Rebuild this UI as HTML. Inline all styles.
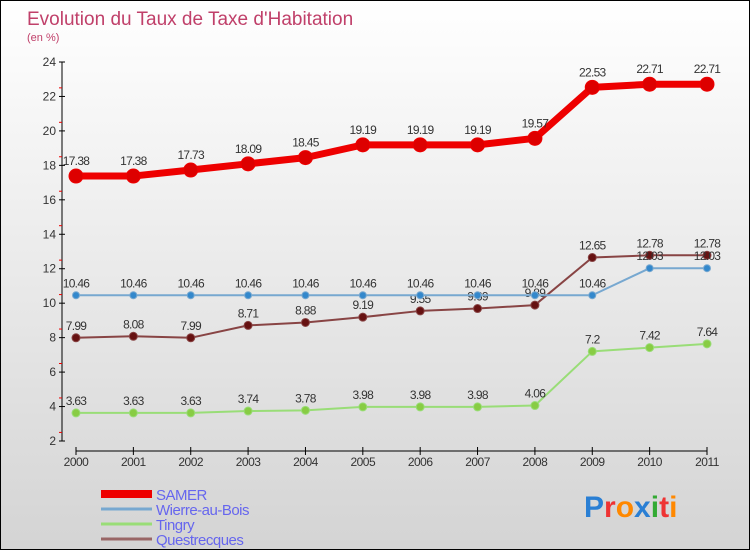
<!DOCTYPE html>
<html><head><meta charset="utf-8"><style>
body{margin:0}
#c{width:750px;height:550px;position:relative;box-sizing:border-box;border:1px solid #000;background:linear-gradient(#fff,#d4d4d4);font-family:"Liberation Sans",sans-serif;overflow:hidden}
svg{position:absolute;left:0;top:0}
</style></head><body>
<div id="c">
<svg id="s" width="750" height="550">
<text x="26" y="24" font-size="19" fill="#c0406a">Evolution du Taux de Taxe d'Habitation</text>
<text x="26" y="40" font-size="11" fill="#c0406a">(en %)</text>
<g id="g"></g>
<text x="583" y="516" font-size="30" font-weight="bold"><tspan fill="#2a7fd4">P</tspan><tspan fill="#e33">r</tspan><tspan fill="#f80">o</tspan><tspan fill="#2a7fd4">x</tspan><tspan fill="#3a3">i</tspan><tspan fill="#e33">t</tspan><tspan fill="#f80">i</tspan></text>
</svg>
</div>
<script>
const years=[2000,2001,2002,2003,2004,2005,2006,2007,2008,2009,2010,2011];
const yTicks=[2,4,6,8,10,12,14,16,18,20,22,24];
const seriesNames=["SAMER","Wierre-au-Bois","Tingry","Questrecques"];
const samer=[17.38,17.38,17.73,18.09,18.45,19.19,19.19,19.19,19.57,22.53,22.71,22.71];
const wierre=[10.46,10.46,10.46,10.46,10.46,10.46,10.46,10.46,10.46,10.46,12.03,12.03];
const tingry=[3.63,3.63,3.63,3.74,3.78,3.98,3.98,3.98,4.06,7.2,7.42,7.64];
const questrecques=[7.99,8.08,7.99,8.71,8.88,9.19,9.55,9.69,9.89,12.65,12.78,12.78];
const NS="http://www.w3.org/2000/svg",g=document.getElementById('g');
function X(i){return 75+i*(706-75)/(years.length-1);}
function Y(v){return 440-(v-2)*(440-61)/22;}
function el(t,a,p){const e=document.createElementNS(NS,t);for(const k in a)e.setAttribute(k,a[k]);(p||g).appendChild(e);return e;}
let a=el('line',{x1:61,y1:61,x2:61,y2:440,stroke:'#000'});


a=el('line',{x1:75,y1:450,x2:706,y2:450,stroke:'#000'});


yTicks.forEach(v=>{const y=Y(v);
 el('line',{x1:58,y1:y,x2:64,y2:y,stroke:'#000'});
 if(v<24)el('line',{x1:58,y1:y-8.6,x2:61,y2:y-8.6,stroke:'#e00'});
 const t=el('text',{x:55,y:y+4,'font-size':12,fill:'#333','text-anchor':'end'});t.textContent=v;
 
 });
years.forEach((yr,i)=>{const x=X(i);
 el('line',{x1:x,y1:446,x2:x,y2:454,stroke:'#000'});
 const t=el('text',{x:x,y:465,'font-size':12,fill:'#333','text-anchor':'middle','letter-spacing':'-0.5'});t.textContent=yr;
 
 });
function draw(d,col,dot,w,r,name,dy){
 const p=el('polyline',{points:d.map((v,i)=>X(i)+','+Y(v)).join(' '),fill:'none',stroke:col,'stroke-width':w,'stroke-linejoin':'round'});
 
 
 d.forEach((v,i)=>{const c=el('circle',{cx:X(i),cy:Y(v),r:r,fill:dot,stroke:col,'stroke-width':1});
  
  
  const t=el('text',{x:X(i),y:Y(v)-dy,'font-size':12,fill:'#333','text-anchor':'middle','letter-spacing':'-0.7'});t.textContent=v;
  
  });
}
draw(tingry,'#99dd77','#88cc44',2,4,'tingry',8);
draw(questrecques,'#884444','#661111',2,4,'questrecques',8);
draw(wierre,'#77a8d0','#3388cc',2,3.5,'wierre',8);
draw(samer,'#ee0000','#dd0000',7,7,'samer',11);
const lc=['#ee0000','#77a8d0','#99dd77','#996666'],lw=[8,3,3,3];
seriesNames.forEach((n,i)=>{const y=493+i*15;
 const l=el('line',{x1:100,y1:y,x2:151,y2:y,stroke:lc[i],'stroke-width':lw[i]});
 
 
 const t=el('text',{x:155,y:y+6,'font-size':15,fill:'#6666ee','letter-spacing':'-0.5'});t.textContent=n;
 
 });
</script>
</body></html>
